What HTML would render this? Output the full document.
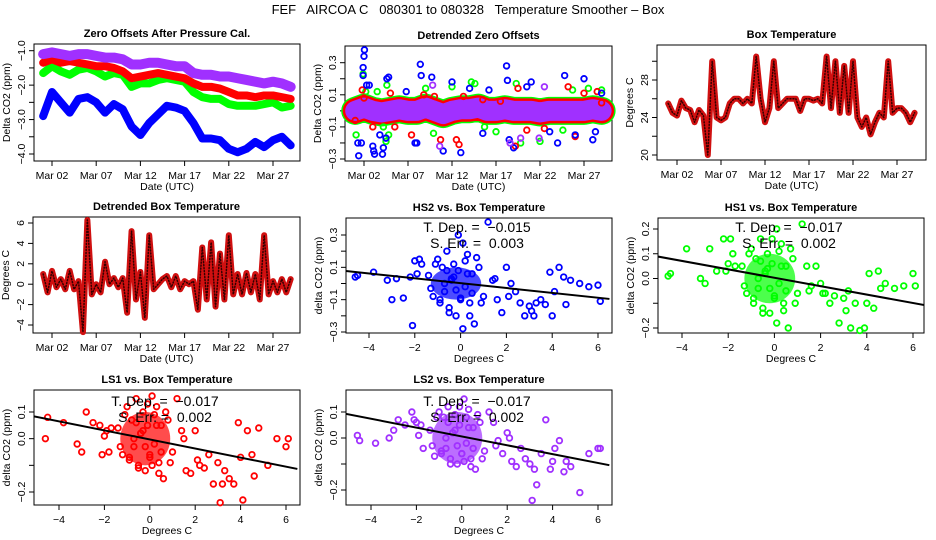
<!DOCTYPE html>
<html><head><meta charset="utf-8">
<style>
body{margin:0;background:#fff;}
svg{display:block;font-family:"Liberation Sans",Arial,sans-serif;}
.tk{font-size:10.5px;fill:#000}
.ttl{font-size:11px;font-weight:bold;fill:#000}
</style></head>
<body>
<svg id="chart" width="936" height="540" viewBox="0 0 936 540">
<rect width="936" height="540" fill="#fff"/>
<text x="468" y="14" text-anchor="middle" font-size="13" style="white-space:pre">FEF   AIRCOA C   080301 to 080328   Temperature Smoother – Box</text>
</svg>
<script>
// ---------- DATA ----------
const days = [1,2,3,4,5,6,7,8,9,10,11,12,13,14,15,16,17,18,19,20,21,22,23,24,25,26,27,28,29];
const ls2Offsets = [-1.1,-1.05,-1.1,-1.15,-1.1,-1.1,-1.15,-1.2,-1.2,-1.25,-1.4,-1.4,-1.35,-1.35,-1.4,-1.45,-1.45,-1.65,-1.7,-1.7,-1.75,-1.75,-1.8,-1.85,-1.9,-1.95,-1.9,-1.95,-2.05];
const ls1Offsets = [-1.35,-1.25,-1.35,-1.3,-1.35,-1.4,-1.45,-1.45,-1.5,-1.6,-1.8,-1.75,-1.7,-1.65,-1.7,-1.75,-1.8,-1.95,-2.05,-2.05,-2.1,-2.2,-2.3,-2.3,-2.35,-2.3,-2.3,-2.35,-2.4];
const hs1Offsets = [-1.65,-1.45,-1.6,-1.7,-1.55,-1.5,-1.6,-1.75,-1.65,-1.7,-2.05,-1.95,-1.95,-1.85,-1.8,-1.85,-1.9,-2.2,-2.35,-2.4,-2.4,-2.55,-2.6,-2.6,-2.6,-2.55,-2.5,-2.65,-2.6];
const hs2Offsets = [-2.9,-2.2,-2.5,-2.8,-2.4,-2.35,-2.5,-2.8,-2.55,-2.7,-3.2,-3.45,-3.1,-2.85,-2.6,-2.65,-2.75,-3.1,-3.55,-3.55,-3.6,-3.85,-3.95,-3.85,-3.65,-3.8,-3.6,-3.5,-3.75];
const detrendBand = [0.0,0.02,0.0,-0.01,0.0,0.01,0.0,0.0,0.02,0.0,-0.02,0.0,0.01,0.01,0.02,0.0,0.0,0.01,0.0,0.0,0.0,-0.01,0.0,0.0,0.0,0.0,0.0,0.01,0.0];
const hs2OutDay = [1.3,1.4,1.7,1.9,2.0,2.05,1.9,2.3,2.6,3.0,3.1,3.2,4.1,4.2,3.8,4.5,4.6,4.8,6.8,7.8,8.0,8.4,8.5,9.7,11.0,12.0,13.0,14.0,15.5,16.2,18.2,18.3,18.5,19.0,20.5,21.0,23.1,24.0,24.8,26.0,27.0,28.0,28.3,29.0];
const hs2OutVal = [-0.2,-0.28,-0.2,0.27,0.34,0.38,0.22,0.16,0.16,-0.22,-0.25,-0.27,-0.27,-0.23,-0.15,-0.17,0.2,0.21,0.12,-0.2,-0.2,0.29,0.22,0.21,-0.25,0.18,-0.26,0.14,-0.14,0.13,0.28,0.19,-0.18,-0.23,0.15,0.18,-0.13,-0.2,0.22,-0.15,0.2,-0.18,-0.13,0.11];
const hs1OutDay = [1.1,1.9,2.2,3.5,4.2,4.5,4.8,4.6,9.0,9.9,12.0,14.2,14.6,15.7,17.0,19.3,19.8,22.0,24.6,25.7,27.5,29.0];
const hs1OutVal = [-0.15,0.23,0.12,0.12,-0.1,-0.19,-0.15,0.16,0.14,-0.14,0.15,0.18,0.17,-0.1,-0.13,0.17,-0.2,-0.19,-0.12,0.13,0.14,0.13];
const ls1OutDay = [1.0,1.8,2.0,3.0,5.0,5.5,7.4,8.8,10.0,10.7,12.5,12.8,13.3,15.5,17.5,19.2,19.5,20.5,22.5,25.2,26.0,27.0,28.5,29.0];
const ls1OutVal = [-0.06,0.13,0.08,-0.1,0.11,-0.1,-0.15,0.1,0.09,-0.18,-0.18,-0.21,0.09,0.07,0.06,-0.22,0.14,-0.12,-0.11,0.15,-0.16,0.11,0.12,0.05];
const ls2OutDay = [10.6,9.8,18.6,19.8,21.9,22.5];
const ls2OutVal = [-0.22,0.16,-0.2,-0.17,-0.17,0.15];
const halfDays = [1,1.5,2,2.5,3,3.5,4,4.5,5,5.5,6,6.5,7,7.5,8,8.5,9,9.5,10,10.5,11,11.5,12,12.5,13,13.5,14,14.5,15,15.5,16,16.5,17,17.5,18,18.5,19,19.5,20,20.5,21,21.5,22,22.5,23,23.5,24,24.5,25,25.5,26,26.5,27,27.5,28,28.5,29];
const boxTemp = [25.5,24.5,24.2,25.8,25,24.8,23.5,24.8,24.2,20,30,24,23.7,24,25.5,26,26,25.5,26,25.5,30.5,26,23.5,25,30,25,25.5,26,26,26,24.7,26,26,25.8,26,25.5,30.5,25,30,24.5,29.5,24.5,30,24,23,24,22.2,23.5,24.5,24,30,24.5,25,25,24.5,23.5,24.5];
const boxTempDetr = [1,-0.8,1.3,-0.3,0.5,-0.5,1.3,-0.5,0.3,-4.7,6.3,-1,0,-0.8,2.2,0,0.6,-0.3,0.6,-2.8,5.2,-1.5,1.2,-3.3,4.8,-0.5,0,0.5,0.8,-0.3,0.8,-0.5,0.3,0,0.3,-2.5,3.6,-1.5,4.1,-2.2,3,-1.5,4.8,-1,1,-1,1.1,-0.8,1,-1.5,4.8,-1,0.3,-0.8,0.5,-0.8,0.5];
const tempX = [-1.4,-1.2,-1.0,-0.9,-0.8,-0.7,-0.6,-0.5,-0.4,-0.3,-0.2,-0.1,0,0.1,0.2,0.3,0.4,0.5,0.6,0.8,1.0,1.2,-1.3,-1.1,-0.9,-0.7,-0.5,-0.3,-0.1,0.1,0.3,0.5,0.7,0.9,-0.6,-0.2,0.2,0.0,-0.4,0.4,
 -4.6,-4.5,-3.8,-3.2,-3.0,-2.8,-2.5,-2.2,-2.1,-1.9,-1.8,-1.7,1.4,1.6,1.8,2.0,2.2,2.4,2.6,2.8,3.0,3.1,3.2,3.3,3.5,3.7,3.9,4.0,4.1,4.3,4.5,4.6,4.8,5.2,5.6,6.0,6.1,-2.0,1.5,2.1];
const hs2Y = [0.05,-0.08,0.15,-0.12,0.1,-0.05,0.2,-0.15,0.02,0.12,-0.2,0.08,-0.1,0.25,-0.02,0.18,-0.12,0.06,-0.25,0.1,-0.08,0.38,-0.03,0.12,-0.1,0.0,-0.18,0.04,0.3,-0.28,0.06,-0.06,0.16,-0.12,0.08,-0.04,0.14,-0.09,0.03,-0.2,
 0.04,0.05,0.07,0.02,-0.1,0.03,-0.09,0.04,-0.26,0.06,0.15,0.12,0.02,-0.1,-0.18,0.1,0.0,-0.05,-0.12,-0.2,-0.14,-0.17,-0.2,-0.12,-0.1,-0.13,0.07,-0.2,-0.05,0.1,0.04,-0.13,0.02,0.0,-0.02,-0.01,-0.11,0.14,0.03,-0.08];
const hs1Y = [0.05,-0.06,0.12,-0.1,0.08,-0.04,0.16,-0.12,0.02,0.1,-0.14,0.06,-0.08,0.2,-0.02,0.14,-0.1,0.05,-0.2,0.08,-0.06,0.22,-0.03,0.1,-0.08,0.0,-0.14,0.04,0.16,-0.18,0.05,-0.05,0.12,-0.1,0.07,-0.04,0.11,-0.07,0.03,-0.13,
 0.01,0.02,0.12,0.0,-0.02,0.12,0.03,0.16,0.03,0.16,0.1,0.05,0.05,-0.03,0.05,-0.02,-0.06,-0.1,-0.07,-0.18,-0.08,-0.13,-0.05,-0.2,-0.1,-0.21,-0.2,-0.1,0.02,-0.12,0.03,-0.04,-0.02,-0.04,-0.03,0.02,-0.03,0.06,-0.05,-0.06];
const ls1Y = [0.04,-0.06,0.12,-0.08,0.07,-0.03,0.15,-0.1,0.02,0.1,-0.12,0.05,-0.07,0.16,-0.02,0.12,-0.09,0.05,-0.15,0.07,-0.05,0.15,-0.03,0.09,-0.07,0.0,-0.11,0.03,0.13,-0.1,0.05,-0.05,0.1,-0.09,0.06,-0.03,0.09,-0.06,0.02,-0.13,
 0.0,0.08,0.06,-0.02,-0.05,0.1,0.06,0.05,-0.06,0.03,-0.05,0.04,0.03,-0.12,-0.13,0.03,-0.1,-0.11,-0.06,-0.17,-0.09,-0.24,-0.17,-0.12,-0.15,-0.17,0.06,-0.07,-0.23,0.03,-0.06,-0.14,0.04,-0.1,0.0,-0.03,0.0,0.01,0.0,-0.08];
const ls2Y = [0.03,-0.07,0.1,-0.05,0.08,-0.04,0.12,-0.08,0.02,0.09,-0.1,0.05,-0.06,0.15,-0.02,0.11,-0.08,0.04,-0.12,0.06,-0.05,0.1,-0.03,0.08,-0.06,0.0,-0.1,0.03,0.12,-0.09,0.04,-0.04,0.09,-0.08,0.06,-0.03,0.08,-0.06,0.02,-0.11,
 0.01,-0.01,-0.02,0.0,0.03,0.07,0.05,0.1,0.07,0.01,0.05,-0.04,0.06,-0.01,-0.06,0.02,-0.09,-0.11,-0.04,-0.08,-0.1,-0.24,-0.12,-0.18,-0.06,0.07,-0.12,-0.09,-0.04,-0.01,-0.13,-0.09,-0.11,-0.21,-0.06,-0.04,-0.04,0.06,-0.03,0.0];
const slopes = [-0.015,-0.017,-0.017,-0.017];
const intercepts = [0.002,0.003,-0.003,0.006];
const slopeLabels = ["T. Dep. =  \u22120.015","T. Dep. =  \u22120.017","T. Dep. =  \u22120.017","T. Dep. =  \u22120.017"];
const errLabels = ["S. Err. =  0.003","S. Err. =  0.002","S. Err. =  0.002","S. Err. =  0.002"];
const dateTicks = [2,7,12,17,22,27];
const dateLabels = ["Mar 02","Mar 07","Mar 12","Mar 17","Mar 22","Mar 27"];
const tempTicks = [-4,-2,0,2,4,6];

// ---------- HELPERS ----------
const NS="http://www.w3.org/2000/svg";
const svg=document.getElementById('chart');
function el(tag,attrs,parent){const e=document.createElementNS(NS,tag);for(const k in attrs)e.setAttribute(k,attrs[k]);(parent||svg).appendChild(e);return e;}
function lin(d0,p0,d1,p1){return v=>p0+(v-d0)*(p1-p0)/(d1-d0);}
const BLUE="#0000ff",GREEN="#00ff00",RED="#ff0000",PURPLE="#a030ff";

function panel(name,b,title,sx,sy,xt,xl,yt,yl,xtitle,ytitle){
  const g=el('g',{});
  
  
  const r=el('rect',{x:b[0],y:b[2],width:b[1]-b[0],height:b[3]-b[2],fill:'none',stroke:'#000','stroke-width':1},g);
  
  
  const t=el('text',{x:(b[0]+b[1])/2,y:b[2]-7,'text-anchor':'middle',class:'ttl'},g);
  t.textContent=title;
  
  
  xt.forEach((v,i)=>{const x=sx(v);
    el('line',{x1:x,x2:x,y1:b[3],y2:b[3]+5,stroke:'#000'},g);
    if(xl[i]!==''){const tx=el('text',{x:x,y:b[3]+18,'text-anchor':'middle',class:'tk'},g);tx.textContent=xl[i];
    
    }
  });
  yt.forEach((v,i)=>{const y=sy(v);
    el('line',{x1:b[0]-5,x2:b[0],y1:y,y2:y,stroke:'#000'},g);
    if(yl[i]!==''){const ty=el('text',{x:0,y:0,'text-anchor':'middle',class:'tk',transform:`translate(${b[0]-9},${y}) rotate(-90)`},g);ty.textContent=yl[i];
    
    }
  });
  const xa=el('text',{x:(b[0]+b[1])/2,y:b[3]+29,'text-anchor':'middle',class:'tk'},g);xa.textContent=xtitle;
  
  
  const ya=el('text',{x:0,y:0,'text-anchor':'middle',class:'tk',transform:`translate(${b[0]-24},${(b[2]+b[3])/2}) rotate(-90)`},g);ya.textContent=ytitle;
  
  
  return g;
}
function band(g,xs,ys,sx,sy,color,w,name){
  const p=el('polyline',{points:xs.map((x,i)=>sx(x)+','+sy(ys[i])).join(' '),fill:'none',stroke:color,'stroke-width':w,'stroke-linejoin':'round','stroke-linecap':'round'},g);
  
  
  return p;
}
function pts(g,xs,ys,sx,sy,color,name,r){
  xs.forEach((x,i)=>{const c=el('circle',{cx:sx(x),cy:sy(ys[i]),r:r||2.8,fill:'none',stroke:color,'stroke-width':1.8},g);
    
    });
}

// ---------- P1 Zero offsets ----------
{const b=[34,300,44,161];const sx=lin(2,52,27,273),sy=lin(-1,50.7,-4,154);
 const g=panel('zero-offsets-panel',b,'Zero Offsets After Pressure Cal.',sx,sy,dateTicks,dateLabels,[-1,-1.5,-2,-2.5,-3,-3.5,-4],['\u22121.0','','\u22122.0','','\u22123.0','','\u22124.0'],'Date (UTC)','Delta CO2  (ppm)');
 band(g,days,hs2Offsets,sx,sy,BLUE,8,'hs2-series');
 band(g,days,hs1Offsets,sx,sy,GREEN,8,'hs1-series');
 band(g,days,ls1Offsets,sx,sy,RED,8,'ls1-series');
 band(g,days,ls2Offsets,sx,sy,PURPLE,10,'ls2-series');
}
// ---------- P2 Detrended zero offsets ----------
{const b=[345,612,46,161];const sx=lin(2,364,27,584),sy=lin(0.3,62.7,-0.3,159);
 const g=panel('detrended-offsets-panel',b,'Detrended Zero Offsets',sx,sy,dateTicks,dateLabels,[-0.3,-0.2,-0.1,0,0.1,0.2,0.3],['\u22120.3','','\u22120.1','','0.1','','0.3'],'Date (UTC)','Delta CO2  (ppm)');
 band(g,days,detrendBand,sx,sy,GREEN,28,'hs1-detrended-band');
 band(g,days,detrendBand,sx,sy,RED,25,'ls1-detrended-band');
 band(g,days,detrendBand,sx,sy,PURPLE,20,'ls2-detrended-band');
 pts(g,hs1OutDay,hs1OutVal,sx,sy,GREEN,'hs1-outlier');
 pts(g,ls1OutDay,ls1OutVal,sx,sy,RED,'ls1-outlier');
 pts(g,hs2OutDay,hs2OutVal,sx,sy,BLUE,'hs2-outlier');
 pts(g,ls2OutDay,ls2OutVal,sx,sy,PURPLE,'ls2-outlier');
}
// ---------- P3 Box temperature ----------
{const b=[657,926,45,160];const sx=lin(2,677,27,897),sy=lin(20,155,28,80);
 const g=panel('box-temperature-panel',b,'Box Temperature',sx,sy,dateTicks,dateLabels,[20,22,24,26,28,30],['20','','24','','28',''],'Date (UTC)','Degrees C');
 band(g,halfDays,boxTemp,sx,sy,'#d01010',6,'box-temp-series');
 const p=band(g,halfDays,boxTemp,sx,sy,'#300',1.5,'box-temp-texture');p.setAttribute('stroke-dasharray','1 2');
}
// ---------- P4 Detrended box temperature ----------
{const b=[33,300,217,333];const sx=lin(2,52,27,273),sy=lin(6,223,-4,325);
 const g=panel('detrended-box-temp-panel',b,'Detrended Box Temperature',sx,sy,dateTicks,dateLabels,[-4,-2,0,2,4,6],['\u22124','\u22122','0','2','4','6'],'Date (UTC)','Degrees C');
 band(g,halfDays,boxTempDetr,sx,sy,'#d01010',6,'detrended-temp-series');
 const p=band(g,halfDays,boxTempDetr,sx,sy,'#300',1.5,'detrended-temp-texture');p.setAttribute('stroke-dasharray','1 2');
}
// ---------- scatter panels ----------
const scat=[
 {name:'hs2-scatter-panel',title:'HS2 vs. Box Temperature',b:[346,612,218,333],sx:lin(-4,369,6,598),sy:lin(0.3,235,-0.3,332),ys:hs2Y,c:BLUE,yt:[-0.3,-0.2,-0.1,0,0.1,0.2,0.3],yl:['\u22120.3','','\u22120.1','','0.1','','0.3'],ty:[227,243]},
 {name:'hs1-scatter-panel',title:'HS1 vs. Box Temperature',b:[658,924,218,333],sx:lin(-4,682,6,913),sy:lin(0.2,229,-0.2,328),ys:hs1Y,c:GREEN,yt:[-0.2,-0.1,0,0.1,0.2],yl:['\u22120.2','','0.0','0.1','0.2'],ty:[227,243]},
 {name:'ls1-scatter-panel',title:'LS1 vs. Box Temperature',b:[34,300,390,505],sx:lin(-4,59,6,286),sy:lin(0.1,412,-0.2,492),ys:ls1Y,c:RED,yt:[-0.2,-0.1,0,0.1],yl:['\u22120.2','','0.0','0.1'],ty:[401,417]},
 {name:'ls2-scatter-panel',title:'LS2 vs. Box Temperature',b:[346,612,390,505],sx:lin(-4,371,6,598),sy:lin(0.1,412,-0.2,490),ys:ls2Y,c:PURPLE,yt:[-0.2,-0.1,0,0.1],yl:['\u22120.2','','0.0','0.1'],ty:[401,417]}
];
scat.forEach((s,k)=>{
 const g=panel(s.name,s.b,s.title,s.sx,s.sy,tempTicks,tempTicks.map(v=>v<0?'\u2212'+(-v):''+v),s.yt,s.yl,'Degrees C','delta CO2 (ppm)');
 const core=el('ellipse',{cx:s.sx(-0.2),cy:s.sy(0),rx:s.sx(1.1)-s.sx(0),ry:s.sy(0)-s.sy(0.1),fill:s.c,opacity:0.7},g);
 
 
 pts(g,tempX,s.ys,s.sx,s.sy,s.c,'scatter-point',2.8);
 const x0=-5.2,x1=6.5;
 const ln=el('line',{x1:s.sx(x0),y1:s.sy(intercepts[k]+slopes[k]*x0),x2:s.sx(x1),y2:s.sy(intercepts[k]+slopes[k]*x1),stroke:'#000','stroke-width':2},g);
 
 
 const cx=(s.b[0]+s.b[1])/2-2;
 const t1=el('text',{x:cx,y:s.ty[0]+5,'text-anchor':'middle','font-size':'14',style:'white-space:pre'},g);t1.textContent=slopeLabels[k];
 
 
 const t2=el('text',{x:cx,y:s.ty[1]+5,'text-anchor':'middle','font-size':'14',style:'white-space:pre'},g);t2.textContent=errLabels[k];
 
 
 const cid='clip'+k;const cp=el('clipPath',{id:cid});el('rect',{x:s.b[0],y:s.b[2],width:s.b[1]-s.b[0],height:s.b[3]-s.b[2]},cp);
 ln.setAttribute('clip-path','url(#'+cid+')');
});
</script>
</body></html>
